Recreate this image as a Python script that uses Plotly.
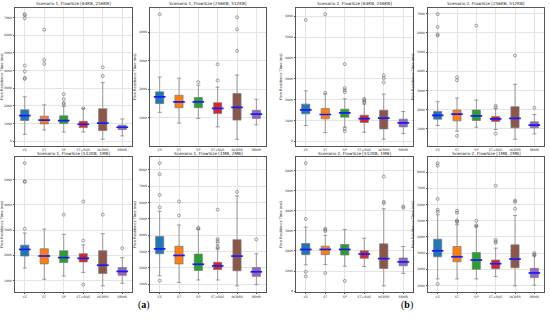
import plotly.graph_objects as go

CATEGORIES = ["CS", "ST", "SP", "ST+RQS", "NCBRR", "RBMR"]
COLORS = ["#1f77b4", "#ff7f0e", "#2ca02c", "#d62728", "#8c564b", "#9467bd"]

TITLES = [
    "Scenario 1, FlowSize [64KB, 256KB]", "Scenario 1, FlowSize [256KB, 512KB]",
    "Scenario 1, FlowSize [512KB, 1MB]", "Scenario 1, FlowSize [1MB, 2MB]",
    "Scenario 2, FlowSize [64KB, 256KB]", "Scenario 2, FlowSize [256KB, 512KB]",
    "Scenario 2, FlowSize [512KB, 1MB]", "Scenario 2, FlowSize [1MB, 2MB]",
]

Q1 = [
    [1160, 970, 990, 760, 590, 650],
    [1494, 1353, 1353, 1153, 918, 976],
    [1974, 1662, 1714, 1740, 1286, 1208],
    [2860, 2240, 1840, 1900, 1820, 1480],
    [1316, 1075, 1156, 899, 594, 690],
    [1506, 1419, 1436, 1384, 1052, 1052],
    [1814, 1814, 1797, 1634, 1127, 1258],
    [2776, 2469, 2000, 2041, 2102, 1490],
]
MEDIAN = [
    [1445, 1180, 1160, 950, 1010, 780],
    [1729, 1553, 1553, 1329, 1365, 1129],
    [2234, 1974, 1909, 1883, 1610, 1364],
    [3160, 2760, 2220, 2120, 2720, 1760],
    [1509, 1284, 1364, 1091, 1108, 883],
    [1698, 1768, 1681, 1524, 1541, 1192],
    [2075, 2075, 2075, 1846, 1618, 1454],
    [3143, 2776, 2571, 2347, 2633, 1776],
]
Q3 = [
    [1770, 1410, 1430, 1120, 1830, 890],
    [1906, 1788, 1706, 1529, 1847, 1259],
    [2403, 2260, 2182, 2065, 2182, 1519],
    [3920, 3320, 2840, 2340, 3720, 2020],
    [1782, 1573, 1541, 1252, 1493, 1059],
    [1908, 1977, 1977, 1646, 2152, 1366],
    [2369, 2239, 2320, 2010, 2353, 1650],
    [3857, 3408, 3041, 2571, 3510, 2061],
]
LOWER = [
    [380, 630, 510, 510, 100, 290],
    [1188, 812, 976, 682, 247, 753],
    [1494, 1052, 1182, 1325, 792, 896],
    [1520, 1100, 1260, 1260, 900, 980],
    [754, 417, 680, 433, 96, 369],
    [1175, 878, 1087, 965, 459, 738],
    [1307, 1324, 1242, 1225, 261, 882],
    [1408, 1408, 1408, 1551, 980, 1020],
]
UPPER = [
    [2510, 2050, 1960, 1840, 3310, 1250],
    [2424, 2388, 2141, 2071, 2494, 1647],
    [2883, 3039, 2831, 2416, 2857, 1909],
    [5460, 4620, 4360, 3160, 6400, 2860],
    [2424, 2279, 2039, 1782, 2263, 1429],
    [2414, 2606, 2501, 2047, 3321, 1750],
    [3186, 2778, 3072, 2631, 4101, 2222],
    [5367, 4755, 4673, 3306, 5327, 2837],
]
OUTLIERS = [
    [[7190, 7130, 6960, 4280, 3950, 3580, 3520], [6310, 4600, 4370], [2660, 2380, 2150, 2090], [1860], [4180, 3690], []],
    [[4624], [], [2247], [2306, 2871], [4518, 4094, 3341], []],
    [[5649, 4935, 4909, 3052], [], [3610], [2584, 4130, 844], [3610], [2286]],
    [[8400, 7720, 6460, 5700, 1220], [6060, 5200], [4440, 4400], [5560, 3760, 3640, 3500, 3300, 3220], [6640], [3740]],
    [[5827], [6100, 2327], [3708, 2552, 2456, 2360, 600, 482], [2039, 1974, 1910, 1862], [3162, 3034, 2825], []],
    [[6969, 6305, 5921, 5852], [3688, 3531, 634], [6375], [2204, 2117, 756], [4822], [2099]],
    [[6373, 3595, 964, 735], [3105, 3056, 2990, 899], [507], [], [5703, 4444, 4379], [4216, 4150]],
    [[8551, 8388, 6347, 5673, 5551, 1102], [5612, 5490, 5020, 4959, 4918], [5000, 4714, 4653], [7163, 3816, 3714, 3633], [6245, 6163, 5735], [3000, 2918, 2857]],
]

W, H = 550, 321
# panel frames in pixels: (left, right, top, bottom)
COLS = [(15, 132), (150, 266), (296, 413), (428, 544)]
ROWS = [(8, 145.5), (157, 292)]
PANEL_POS = [(0, 0), (1, 0), (0, 1), (1, 1), (2, 0), (3, 0), (2, 1), (3, 1)]

FONT = "DejaVu Sans"
fig = go.Figure()
layout = dict(width=W, height=H, margin=dict(l=0, r=0, t=0, b=0, autoexpand=False),
              paper_bgcolor="white", plot_bgcolor="white", showlegend=False,
              boxmode="overlay", boxgap=0.4, font=dict(family=FONT, size=4, color="#222"))
annotations = []

for p in range(8):
    c, r = PANEL_POS[p]
    l, rr = COLS[c]
    t, b = ROWS[r]
    n = p + 1
    xa = f"x{n}" if n > 1 else "x"
    ya = f"y{n}" if n > 1 else "y"
    for i, cat in enumerate(CATEGORIES):
        fig.add_trace(go.Box(
            x=[cat], q1=[Q1[p][i]], median=[MEDIAN[p][i]], q3=[Q3[p][i]],
            lowerfence=[LOWER[p][i]], upperfence=[UPPER[p][i]],
            fillcolor=COLORS[i], line=dict(color="#777", width=0.7),
            boxpoints=False, whiskerwidth=0.5, xaxis=xa, yaxis=ya, hoverinfo="skip"))
    ox, oy = [], []
    for i, cat in enumerate(CATEGORIES):
        for v in OUTLIERS[p][i]:
            ox.append(cat)
            oy.append(v)
    fig.add_trace(go.Scatter(x=ox, y=oy, mode="markers", xaxis=xa, yaxis=ya,
                             marker=dict(symbol="circle-open", size=3, color="#666",
                                         line=dict(width=0.6, color="#666"))))
    # line-ew symbol is drawn 1.4x its size, so scale to the box width
    box_px = (rr - l) / len(CATEGORIES) * 0.6
    fig.add_trace(go.Scatter(x=CATEGORIES, y=MEDIAN[p], mode="markers", xaxis=xa, yaxis=ya,
                             marker=dict(symbol="line-ew", size=box_px / 1.4,
                                         line=dict(width=1.7, color="#1a1aff"))))
    allv = LOWER[p] + UPPER[p] + [v for lst in OUTLIERS[p] for v in lst]
    lo, hi = min(allv), max(allv)
    pad = (hi - lo) * 0.05
    axis_common = dict(showline=True, mirror=True, linecolor="#555", linewidth=0.6,
                       showgrid=True, gridcolor="#e4e4e4", gridwidth=0.5, zeroline=False,
                       ticks="outside", tickwidth=0.5, tickcolor="#555",
                       automargin=False,
                       tickfont=dict(size=3.2, family=FONT, color="#333"))
    layout["xaxis" + ("" if n == 1 else str(n))] = dict(
        domain=[l / W, rr / W], anchor=ya, range=[-0.5, len(CATEGORIES) - 0.5],
        type="category", ticklen=1, **axis_common)
    layout["yaxis" + ("" if n == 1 else str(n))] = dict(
        domain=[1 - b / H, 1 - t / H], anchor=xa, range=[lo - pad, hi + pad],
        dtick=1000, tick0=0, tickformat="d", ticklen=1.5,
        title=dict(text="Flow Residence Time (ms)", font=dict(size=3.6, family=FONT, color="#333"),
                   standoff=2), **axis_common)
    annotations.append(dict(text=TITLES[p], x=(l + rr) / 2 / W, y=1 - (t - 0.5) / H,
                            xref="paper", yref="paper", xanchor="center", yanchor="bottom",
                            borderpad=0, showarrow=False,
                            font=dict(size=4.2, family=FONT, color="#222")))

annotations.append(dict(text="(<b>a</b>)", x=136 / W, y=1 - 313 / H, xref="paper", yref="paper",
                        showarrow=False, font=dict(size=10, family="Liberation Serif", color="black")))
annotations.append(dict(text="(<b>b</b>)", x=415 / W, y=1 - 313 / H, xref="paper", yref="paper",
                        showarrow=False, font=dict(size=10, family="Liberation Serif", color="black")))
layout["annotations"] = annotations
fig.update_layout(**layout)
fig.write_html("out.html", config={"displayModeBar": False},
               post_script="document.body.style.margin='0';document.body.style.overflow='hidden';")
